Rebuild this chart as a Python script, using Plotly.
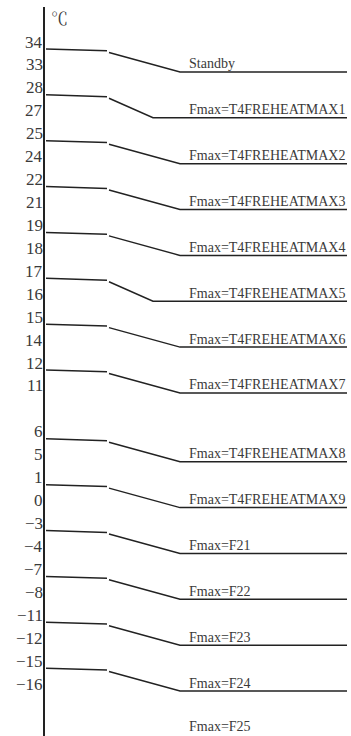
import plotly.graph_objects as go


# threshold ticks down the axis, top to bottom (a blank gap row sits after 11)
tick_values = [34, 33, 28, 27, 25, 24, 22, 21, 19, 18, 17, 16, 15, 14, 12, 11,
               6, 5, 1, 0, -3, -4, -7, -8, -11, -12, -15, -16]
gap_after = 11

# each band: temperature where the step starts, where it ends, and its label
band_upper = [34, 28, 25, 22, 19, 17, 15, 12, 6, 1, -3, -7, -11, -15]
band_lower = [33, 27, 24, 21, 18, 16, 14, 11, 5, 0, -4, -8, -12, -16]
band_label = [
    'Standby',
    'Fmax=T4FREHEATMAX1',
    'Fmax=T4FREHEATMAX2',
    'Fmax=T4FREHEATMAX3',
    'Fmax=T4FREHEATMAX4',
    'Fmax=T4FREHEATMAX5',
    'Fmax=T4FREHEATMAX6',
    'Fmax=T4FREHEATMAX7',
    'Fmax=T4FREHEATMAX8',
    'Fmax=T4FREHEATMAX9',
    'Fmax=F21',
    'Fmax=F22',
    'Fmax=F23',
    'Fmax=F24',
]
last_label = 'Fmax=F25'
unit = '\u2103'


#------------------------------------------------------------------------------------------------
# styling / geometry
LINE_COLOR = '#222222'
TEXT_COLOR = '#3a3a3a'
FONT = 'Liberation Serif, Noto Serif CJK SC, Noto Sans CJK SC, serif'

X_START, X_FLAT_END, X_DIAG_START = 46, 107, 109
X_KNEE, X_KNEE_STEEP, X_END = 180, 153, 347
X_LABEL = 187
steep_bands = {27, 16}

# slot index of each tick (row on the axis)
slot = {}
row = 0
for v in tick_values:
    slot[v] = row
    row += 1
    if v == gap_after:
        row += 1

fig = go.Figure()

for up, low, lab in zip(band_upper, band_lower, band_label):
    knee = X_KNEE_STEEP if low in steep_bands else X_KNEE
    y_up = slot[up]
    y_low = slot[low]

    # flat part from the axis
    fig.add_trace(go.Scatter(
        x=[X_START, X_FLAT_END], y=[y_up, y_up + 0.08],
        mode='lines', line=dict(color=LINE_COLOR, width=1.5),
        showlegend=False, hoverinfo='skip'))

    # ramp down then flat to the right
    fig.add_trace(go.Scatter(
        x=[X_DIAG_START, knee, X_END], y=[y_up + 0.15, y_low, y_low],
        mode='lines', line=dict(color=LINE_COLOR, width=1.5),
        showlegend=False, hoverinfo='skip'))

    fig.add_annotation(
        x=X_LABEL, y=y_low, text=lab, showarrow=False,
        xanchor='left', yanchor='middle', yshift=8,
        font=dict(family=FONT, size=14, color=TEXT_COLOR))

# tick labels sit just above their lines
for v in tick_values:
    fig.add_annotation(
        x=0, xref='paper', y=slot[v], text=str(v).replace('-', '\u2212'),
        showarrow=False, xanchor='right', yanchor='middle', yshift=7, xshift=0,
        font=dict(family=FONT, size=17, color=TEXT_COLOR))

fig.add_annotation(
    x=X_LABEL, y=0, yref='paper', text=last_label, showarrow=False,
    xanchor='left', yanchor='bottom', yshift=0,
    font=dict(family=FONT, size=14, color=TEXT_COLOR))

fig.add_annotation(
    x=0, xref='paper', y=1, yref='paper', text=unit, showarrow=False,
    xanchor='left', yanchor='top', xshift=4, yshift=-1,
    font=dict(family=FONT, size=17, color=TEXT_COLOR))

fig.update_xaxes(range=[45, 351], visible=False, fixedrange=True)
fig.update_yaxes(
    range=[29.96, -1.832],
    showline=True, linecolor=LINE_COLOR, linewidth=1.5,
    showgrid=False, zeroline=False, showticklabels=False, ticks='',
    fixedrange=True)

fig.update_layout(
    width=351,
    height=736,
    margin=dict(l=45, r=0, t=7, b=0),
    plot_bgcolor='white',
    paper_bgcolor='white',
)

fig.write_html(
    'out.html',
    config={'displayModeBar': False},
    post_script="document.body.style.margin='0';document.body.style.overflow='hidden';",
)
